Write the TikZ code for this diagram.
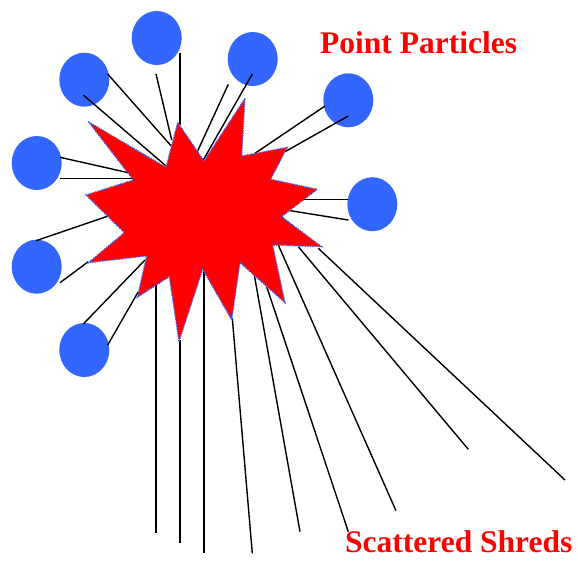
\documentclass[tikz,border=0pt]{standalone}
\usepackage{fontspec}
\setmainfont{Liberation Serif}
\usetikzlibrary{shapes.geometric}
\definecolor{partblue}{RGB}{51,102,255}
\definecolor{blastred}{RGB}{255,0,0}

\begin{document}
\begin{tikzpicture}[
      x=1pt, y=-1pt,
      particle/.style={ellipse, fill=partblue, inner sep=0pt,
                       minimum width=50pt, minimum height=54pt},
      shred/.style={line width=1.4pt, black},
      blast/.style={fill=blastred, draw=partblue, line width=1.3pt,
                    dash pattern=on 1.2pt off 1.2pt},
      caption/.style={anchor=base west, inner sep=0pt, text=blastred,
                      font=\fontsize{31.5}{36}\selectfont\bfseries}
    ]
    \useasboundingbox (0,0) rectangle (578,560);

    % point particles
    \node[particle] (pA) at (156.7,38) {};
    \node[particle] (pB) at (252.7,59) {};
    \node[particle] (pC) at (84.3,79.7) {};
    \node[particle] (pD) at (36.7,163) {};
    \node[particle] (pE) at (36.7,266.7) {};
    \node[particle] (pF) at (84.3,350) {};
    \node[particle] (pG) at (348.3,100.3) {};
    \node[particle] (pH) at (372.3,204.2) {};

    % tethers from particles to the blast
    \foreach \xa/\ya/\xb/\yb in {180/53.3/180/125, 156/74/171.7/140,
                       228.3/84.3/197.3/151.7, 252.3/74/203.3/160,
                       107.7/74/171/145.7, 83.3/95/165.7/165.7,
                       60/157.3/128.3/172.7, 60/178.3/133.3/178.3,
                       36/240.7/108.3/216, 60/282.7/88.3/261.7,
                       83.3/324/145/260, 107.7/345/138.3/291.7,
                       325/106/255/153.3, 348.3/116/285/151.7,
                       348.3/199.3/303.3/199.3, 348.3/220/281.7/209.3}
      \draw[shred] (\xa,\ya) -- (\xb,\yb);

    % scattered shreds
    \foreach \xa/\ya/\xb/\yb in {156/285/156/532.7, 180/340/180/542.7,
                       204/270/204/553.3, 232.3/318.3/252.3/553.3,
                       254.3/275/300/531.7, 266.7/286.7/348.3/531.7,
                       278.3/245/396/510.7, 298.3/246.7/468.3/449.3,
                       318.3/248.3/565/480}
      \draw[shred] (\xa,\ya) -- (\xb,\yb);

    % the blast
    \draw[blast] (88.3,121.7) -- (166,167.3) -- (177.7,122.3) -- (204,161)
      -- (245,98.3) -- (241.7,156) -- (287.3,147.3) -- (270.7,179.3)
      -- (317.3,189.3) -- (281.7,216.7) -- (321.7,246.7) -- (272.7,245)
      -- (285,302.7) -- (240,262.7) -- (231.7,320) -- (202.7,269.3)
      -- (179,341.7) -- (169.3,276.7) -- (137.3,297.3) -- (146.7,256)
      -- (88.3,262.7) -- (124.3,232.7) -- (86,195) -- (133.3,180) -- cycle;

    \node[caption] (lblPoint) at (320,53) {Point Particles};
    \node[caption] (lblShred) at (345,552) {Scattered Shreds};
  \end{tikzpicture}
\end{document}
